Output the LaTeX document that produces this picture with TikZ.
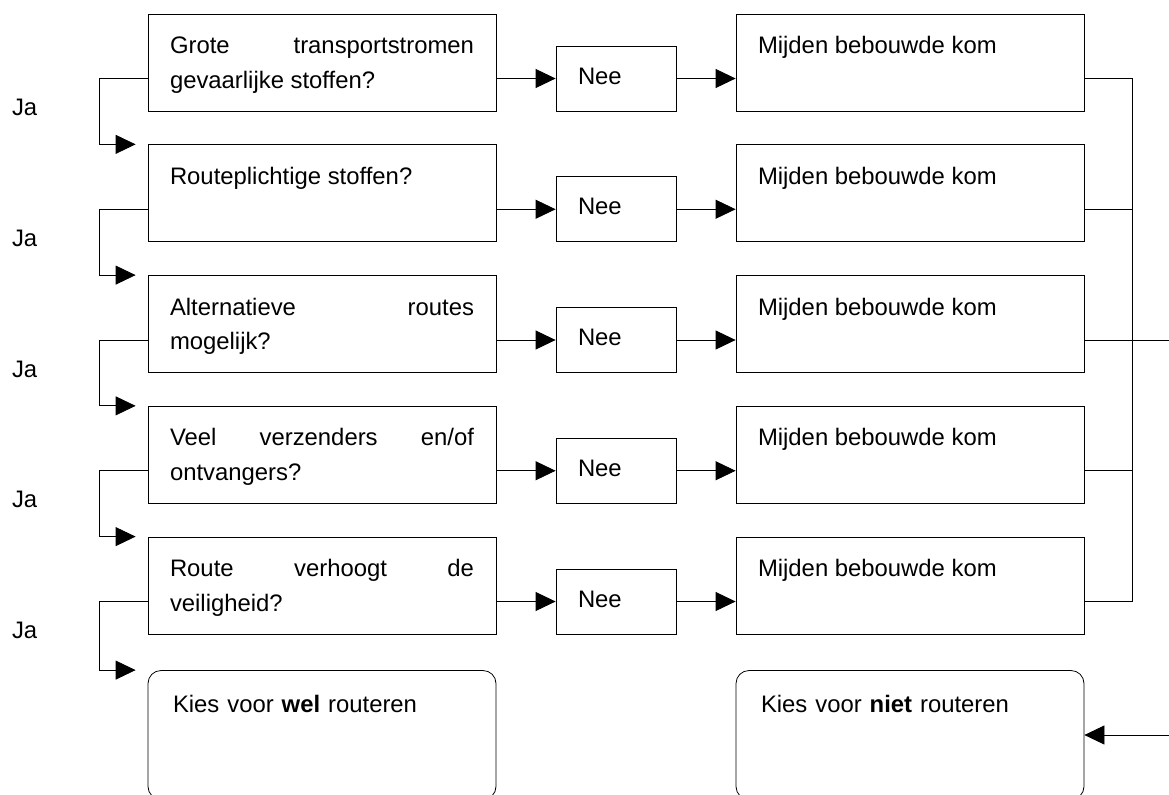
\documentclass[tikz,border=0pt]{standalone}
\usepackage{fontspec}
\setmainfont{Liberation Sans}
\usetikzlibrary{positioning,arrows.meta}
\tikzset{
>={Triangle[length=10pt,width=9.5pt]},
line width=0.65pt,
node distance=16.475pt,
every node/.style={font=\fontsize{11.93}{17.25}\selectfont},
vraag/.style={draw, rectangle, inner xsep=11pt, inner ysep=0pt, text width=152pt, align=justify, text height=19.75pt, text depth=28.75pt},
nee/.style={draw, rectangle, inner xsep=11pt, inner ysep=0pt, text width=38pt, align=left, text height=19pt, text depth=13.5pt},
keuze/.style={draw, rectangle, rounded corners=6.5pt, inner xsep=12.5pt, inner ysep=0pt, text width=149pt, align=left, text height=21pt, text depth=43.5pt},
ja/.style={anchor=west, inner sep=0pt},
}
\hyphenpenalty=10000

\begin{document}
\begin{tikzpicture}
    \useasboundingbox (0,0) rectangle (584.5pt,-397pt);
    \clip (0,0) rectangle (584.5pt,-397pt);
    \node[vraag] (q1) at (161pt,-31.25pt) {Grote transportstromen\linebreak gevaarlijke stoffen?};
    \node[vraag] (q2) [below=of q1] {Routeplichtige stoffen?};
    \node[vraag] (q3) [below=of q2] {Alternatieve routes\linebreak mogelijk?};
    \node[vraag] (q4) [below=of q3] {Veel verzenders en/of\linebreak ontvangers?};
    \node[vraag] (q5) [below=of q4] {Route verhoogt de\linebreak veiligheid?};
    \node[nee] (n1) [right=29.6pt of q1.south east, anchor=south west] {Nee};
    \node[nee] (n2) [right=29.6pt of q2.south east, anchor=south west] {Nee};
    \node[nee] (n3) [right=29.6pt of q3.south east, anchor=south west] {Nee};
    \node[nee] (n4) [right=29.6pt of q4.south east, anchor=south west] {Nee};
    \node[nee] (n5) [right=29.6pt of q5.south east, anchor=south west] {Nee};
    \node[vraag] (m1) [right=29.6pt of n1.south east, anchor=south west] {Mijden bebouwde kom};
    \node[vraag] (m2) [right=29.6pt of n2.south east, anchor=south west] {Mijden bebouwde kom};
    \node[vraag] (m3) [right=29.6pt of n3.south east, anchor=south west] {Mijden bebouwde kom};
    \node[vraag] (m4) [right=29.6pt of n4.south east, anchor=south west] {Mijden bebouwde kom};
    \node[vraag] (m5) [right=29.6pt of n5.south east, anchor=south west] {Mijden bebouwde kom};
    \node[keuze] (wel) [below=17.85pt of q5] {Kies voor \textbf{wel} routeren};
    \node[keuze] (niet) [below=17.85pt of m5] {Kies voor \textbf{niet} routeren};
    \node[ja] (ja1) at ([xshift=-68pt,yshift=2pt]q1.south west) {Ja};
    \node[ja] (ja2) at ([xshift=-68pt,yshift=2pt]q2.south west) {Ja};
    \node[ja] (ja3) at ([xshift=-68pt,yshift=2pt]q3.south west) {Ja};
    \node[ja] (ja4) at ([xshift=-68pt,yshift=2pt]q4.south west) {Ja};
    \node[ja] (ja5) at ([xshift=-68pt,yshift=2pt]q5.south west) {Ja};
    %ja: naar de volgende vraag
    \draw[->] (q1.west |- n1.west) -- ++(-24pt,0) |- ([xshift=-6pt]q2.north west);
    \draw[->] (q2.west |- n2.west) -- ++(-24pt,0) |- ([xshift=-6pt]q3.north west);
    \draw[->] (q3.west |- n3.west) -- ++(-24pt,0) |- ([xshift=-6pt]q4.north west);
    \draw[->] (q4.west |- n4.west) -- ++(-24pt,0) |- ([xshift=-6pt]q5.north west);
    \draw[->] (q5.west |- n5.west) -- ++(-24pt,0) |- ([xshift=-6pt]wel.north west);
    %nee: bebouwde kom mijden
    \draw[->] (q1.east |- n1.west) -- (n1.west);
    \draw[->] (n1.east) -- (m1.west |- n1.east);
    \draw[->] (q2.east |- n2.west) -- (n2.west);
    \draw[->] (n2.east) -- (m2.west |- n2.east);
    \draw[->] (q3.east |- n3.west) -- (n3.west);
    \draw[->] (n3.east) -- (m3.west |- n3.east);
    \draw[->] (q4.east |- n4.west) -- (n4.west);
    \draw[->] (n4.east) -- (m4.west |- n4.east);
    \draw[->] (q5.east |- n5.west) -- (n5.west);
    \draw[->] (n5.east) -- (m5.west |- n5.east);
    %verzamellijn rechts
    \draw (m1.east |- n1.east) -- ++(24pt,0) |- (m5.east |- n5.east);
    \draw (m2.east |- n2.east) -- ++(24pt,0);
    \draw (m4.east |- n4.east) -- ++(24pt,0);
    \draw[->] (m3.east |- n3.east) -- ++(44pt,0) |- (niet.east);
\end{tikzpicture}
\end{document}
